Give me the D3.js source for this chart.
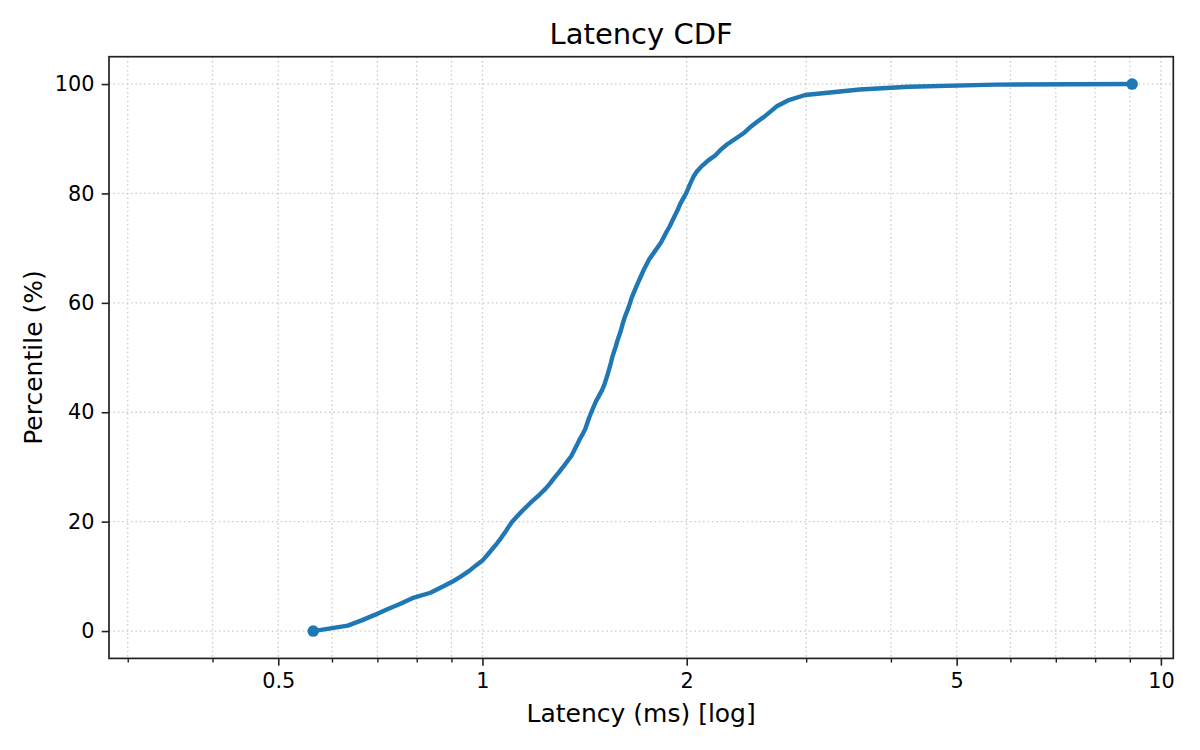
<!DOCTYPE html>
<html lang="en">
<head>
    <meta charset="UTF-8">
    <title>Latency CDF</title>
    <script src="https://d3js.org/d3.v7.min.js"></script>
    <style>
        body { margin: 0; background: #fff; }
        svg { font-family: "DejaVu Sans", sans-serif; }
        .axis path, .axis line { stroke: #222; }
        .axis text { font-size: 20.8px; fill: #000; font-family: "DejaVu Sans", sans-serif; }
        .grid line { stroke: #cccccc; stroke-width: 1.3; stroke-dasharray: 1.6 2.8; }
    </style>
</head>
<body>
    <svg id="chart" width="1200" height="750"></svg>

    <script>
        // percentile (%) and the latency (ms) read at each one
        const percentiles = [
            0, 1, 2, 3, 4, 5, 6, 7, 8, 9,
            10, 11, 12, 13, 14, 15, 16, 17, 18, 19,
            20, 21, 22, 23, 24, 25, 26, 27, 28, 29,
            30, 31, 32, 33, 34, 35, 36, 37, 38, 39,
            40, 41, 42, 43, 44, 45, 46, 47, 48, 49,
            50, 51, 52, 53, 54, 55, 56, 57, 58, 59,
            60, 61, 62, 63, 64, 65, 66, 67, 68, 69,
            70, 71, 72, 73, 74, 75, 76, 77, 78, 79,
            80, 81, 82, 83, 84, 85, 86, 87, 88, 89,
            90, 91, 92, 93, 94, 95, 96, 97, 98, 99,
            99.5, 99.9, 100
        ];
        const latencies = [
            0.563, 0.633, 0.665, 0.695, 0.724, 0.757, 0.788, 0.838, 0.870, 0.902,
            0.930, 0.956, 0.978, 1.002, 1.018, 1.034, 1.050, 1.065, 1.079, 1.092,
            1.106, 1.125, 1.145, 1.167, 1.190, 1.215, 1.238, 1.258, 1.276, 1.296,
            1.315, 1.333, 1.352, 1.365, 1.378, 1.390, 1.405, 1.418, 1.427, 1.436,
            1.447, 1.458, 1.470, 1.485, 1.500, 1.512, 1.521, 1.530, 1.538, 1.546,
            1.553, 1.562, 1.572, 1.580, 1.590, 1.600, 1.608, 1.617, 1.628, 1.640,
            1.650, 1.660, 1.673, 1.686, 1.700, 1.714, 1.728, 1.745, 1.762, 1.785,
            1.808, 1.832, 1.850, 1.868, 1.888, 1.905, 1.922, 1.940, 1.955, 1.975,
            1.996, 2.012, 2.028, 2.045, 2.070, 2.105, 2.150, 2.205, 2.245, 2.295,
            2.360, 2.425, 2.475, 2.535, 2.600, 2.660, 2.720, 2.820, 2.990, 3.600,
            4.250, 5.700, 9.070
        ];

        const xMajorTicks = [0.5, 1, 2, 5, 10];
        const xMinorTicks = [0.3, 0.4, 0.6, 0.7, 0.8, 0.9, 3, 4, 6, 7, 8, 9];
        const yTicks = [0, 20, 40, 60, 80, 100];

        const data = percentiles.map((p, i) => ({ p: p, ms: latencies[i] }));

        const svg = d3.select("#chart"),
            margin = { top: 56.7, right: 26.7, bottom: 91.6, left: 109 },
            width = +svg.attr("width"),
            height = +svg.attr("height");

        const x = d3.scaleLog()
            .domain([0.2815, 10.43])
            .range([margin.left, width - margin.right]);

        const y = d3.scaleLinear()
            .domain([-5, 105])
            .range([height - margin.bottom, margin.top]);

        // grid: every x tick (major + minor), y majors only
        const grid = svg.append("g").attr("class", "grid");
        grid.selectAll(".vx")
            .data(xMajorTicks.concat(xMinorTicks))
            .enter().append("line")
            .attr("x1", d => x(d)).attr("x2", d => x(d))
            .attr("y1", margin.top).attr("y2", height - margin.bottom);
        grid.selectAll(".hy")
            .data(yTicks)
            .enter().append("line")
            .attr("x1", margin.left).attr("x2", width - margin.right)
            .attr("y1", d => y(d)).attr("y2", d => y(d));

        // the CDF line
        const line = d3.line()
            .x(d => x(d.ms))
            .y(d => y(d.p));

        svg.append("path")
            .datum(data)
            .attr("fill", "none")
            .attr("stroke", "#1f77b4")
            .attr("stroke-width", 4.4)
            .attr("stroke-linejoin", "round")
            .attr("stroke-linecap", "round")
            .attr("d", line);

        // end markers
        svg.selectAll(".endpoint")
            .data([data[0], data[data.length - 1]])
            .enter().append("circle")
            .attr("cx", d => x(d.ms))
            .attr("cy", d => y(d.p))
            .attr("r", 5.8)
            .attr("fill", "#1f77b4");

        // axes
        const fmt = d => (d < 1 ? d3.format(".1f")(d) : d3.format("d")(d));

        svg.append("g")
            .attr("class", "axis")
            .attr("transform", `translate(0,${height - margin.bottom})`)
            .call(d3.axisBottom(x).tickValues(xMinorTicks).tickSize(4.2).tickFormat(""))
            .call(g => g.select(".domain").remove())
            .selectAll("line").attr("stroke-width", 1.4);

        svg.append("g")
            .attr("class", "axis")
            .attr("transform", `translate(0,${height - margin.bottom})`)
            .call(d3.axisBottom(x).tickValues(xMajorTicks).tickSize(7.3).tickPadding(7.3).tickFormat(fmt))
            .call(g => g.select(".domain").remove())
            .call(g => g.selectAll("line").attr("stroke-width", 1.6))
            .call(g => g.selectAll("text").attr("dy", "0.71em"));

        svg.append("g")
            .attr("class", "axis")
            .attr("transform", `translate(${margin.left},0)`)
            .call(d3.axisLeft(y).tickValues(yTicks).tickSize(7.3).tickPadding(7.3))
            .call(g => g.select(".domain").remove())
            .call(g => g.selectAll("line").attr("stroke-width", 1.6));

        // frame
        svg.append("rect")
            .attr("x", margin.left)
            .attr("y", margin.top)
            .attr("width", width - margin.left - margin.right)
            .attr("height", height - margin.top - margin.bottom)
            .attr("fill", "none")
            .attr("stroke", "#222")
            .attr("stroke-width", 1.7);

        // title and labels
        const cx = (margin.left + width - margin.right) / 2;
        svg.append("text")
            .attr("x", cx).attr("y", 44)
            .attr("text-anchor", "middle")
            .style("font-size", "29px")
            .text("Latency CDF");

        svg.append("text")
            .attr("x", cx).attr("y", 722)
            .attr("text-anchor", "middle")
            .style("font-size", "25px")
            .text("Latency (ms) [log]");

        svg.append("text")
            .attr("transform", `translate(42,${(margin.top + height - margin.bottom) / 2}) rotate(-90)`)
            .attr("text-anchor", "middle")
            .style("font-size", "25px")
            .text("Percentile (%)");
    </script>
</body>
</html>
